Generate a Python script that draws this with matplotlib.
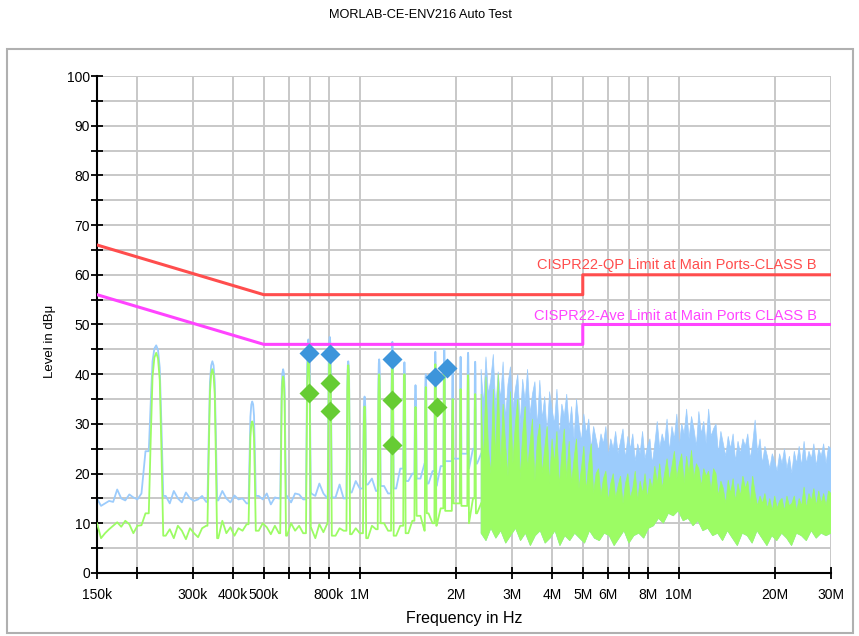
import numpy as np
import matplotlib.pyplot as plt
from matplotlib.patches import Rectangle
from matplotlib.ticker import NullLocator

plt.rcParams['font.family'] = ['Liberation Sans', 'DejaVu Sans']

# x axis ticks
tick_f = [150e3, 200e3, 300e3, 400e3, 500e3, 600e3, 700e3, 800e3, 1e6,
          2e6, 3e6, 4e6, 5e6, 6e6, 7e6, 8e6, 10e6, 20e6, 30e6]
tick_lab = ['150k', '', '300k', '400k', '500k', '', '', '800k', '1M',
            '2M', '3M', '4M', '5M', '6M', '', '8M', '10M', '20M', '30M']

# limit lines (freq, dB)
qp_lim_f = [150e3, 500e3, 5e6, 5e6, 30e6]
qp_lim_v = [66, 56, 56, 60, 60]
av_lim_f = [150e3, 500e3, 5e6, 5e6, 30e6]
av_lim_v = [56, 46, 46, 50, 50]

# final measurement markers
qp_mark_f = [693e3, 806e3, 1.26e6, 1.72e6, 1.88e6]
qp_mark_v = [44.3, 44.1, 43.1, 39.4, 41.2]
av_mark_f = [693e3, 806e3, 806e3, 1.26e6, 1.26e6, 1.75e6]
av_mark_v = [36.2, 38.2, 32.6, 34.8, 25.8, 33.4]

# low band: noise floor sampled on a log grid 150k..2.4M
floor_f = np.geomspace(150e3, 2.4e6, 96)
blue_floor = [15.0, 13.5, 14.0, 14.5, 14.3, 16.8, 15.0, 14.6, 15.8, 15.2,
              14.8, 16.0, 24.5, 25.5, 20.0, 16.0, 16.0, 15.5, 14.0, 16.5,
              15.0, 14.2, 16.2, 15.0, 14.5, 14.8, 15.5, 14.3, 15.0, 15.0,
              14.6, 16.5, 15.0, 14.2, 15.6, 14.8, 15.0, 14.0, 15.0, 15.0,
              15.5, 14.8, 16.0, 13.8, 15.2, 15.0, 15.0, 15.5, 14.2, 16.0,
              15.8, 14.8, 17.5, 16.0, 15.5, 18.0, 16.0, 15.0, 16.0, 15.2,
              17.8, 15.0, 16.5, 16.2, 18.5, 17.0, 15.5, 17.8, 19.0, 16.5,
              18.2, 17.5, 16.0, 19.5, 17.0, 21.0, 16.8, 18.5, 20.0, 17.5,
              19.0, 22.0, 18.0, 20.5, 17.5, 21.5, 19.0, 22.5, 20.0, 23.0,
              19.5, 24.0, 21.0, 25.0, 22.0, 24.0]
green_floor = [10.0, 7.0, 8.0, 8.8, 9.5, 10.2, 9.3, 10.5, 9.8, 8.0,
               9.5, 9.6, 12.0, 12.5, 10.0, 9.0, 9.0, 7.5, 8.8, 7.0,
               9.5, 8.5, 6.8, 9.0, 8.0, 7.2, 9.0, 9.5, 9.0, 9.0,
               7.0, 10.5, 8.0, 9.2, 7.5, 9.0, 8.5, 9.8, 9.0, 9.0,
               8.5, 10.0, 9.2, 7.8, 9.5, 8.0, 9.0, 7.5, 10.0, 8.5,
               9.5, 8.0, 10.5, 9.0, 7.0, 9.8, 8.2, 10.0, 9.0, 7.5,
               9.0, 8.5, 10.2, 7.8, 9.0, 8.0, 10.5, 7.0, 9.5, 8.8,
               6.5, 10.0, 8.5, 11.0, 7.5, 9.5, 12.0, 8.0, 10.5, 9.0,
               11.5, 8.5, 12.0, 10.0, 9.5, 13.0, 10.5, 12.5, 9.0, 14.0,
               11.0, 13.5, 10.0, 15.0, 12.0, 14.0]

# harmonic peaks
peak_f = [230e3, 345e3, 460e3, 575e3, 690e3, 805e3, 920e3, 1035e3, 1150e3,
          1265e3, 1380e3, 1495e3, 1610e3, 1725e3, 1840e3, 1955e3, 2070e3,
          2185e3, 2300e3]
blue_peak = [45.8, 42.6, 34.5, 41.0, 47.0, 47.5, 42.6, 35.5, 43.0, 46.5,
             42.4, 37.8, 40.0, 44.5, 45.0, 41.5, 43.5, 44.3, 42.5]
green_peak = [44.3, 41.0, 30.5, 39.5, 43.0, 43.0, 41.8, 33.5, 40.0, 42.0,
              40.0, 33.4, 37.4, 42.0, 42.0, 35.0, 37.0, 39.8, 36.0]

# high band 2.4M..30M: dense spectrum drawn as envelopes
band_f = np.geomspace(2.4e6, 30e6, 144)
blue_top = [41, 34, 43.5, 36, 39, 44, 33, 40.5, 35, 42.5, 31, 38,
            41.5, 33, 37, 40, 30, 39, 34.5, 41, 32, 36, 38.5, 29.5,
            38.8, 31, 35.5, 28, 36.5, 33, 30, 37, 27.5, 34, 31.5, 36,
            29, 33.5, 27, 35, 30, 26.5, 32, 28, 31, 25, 29.5, 27,
            24.5, 28, 26, 29.5, 23.5, 27, 25, 28.5, 24, 26.5, 29, 23,
            27.5, 25, 28, 22.5, 26, 24, 28.5, 23, 25.5, 27, 22, 26,
            30.5, 25, 28, 26, 31, 24.5, 29.5, 27, 32, 25.5, 30, 28,
            33, 27, 31.5, 29, 25.5, 32.5, 28, 30.5, 26, 33, 27.5, 29,
            30, 24, 28.5, 26, 23.5, 27.5, 25, 28, 22.5, 26.5, 24, 27,
            25.5, 28, 23, 26, 30.8, 24, 27, 22, 25.5, 23.5, 21, 24,
            22.5, 20.5, 24, 22, 25, 21, 23.5, 20, 24.5, 22, 25.5, 21.5,
            26.5, 22, 24.5, 23, 26, 21.5, 25, 23.5, 26, 22, 25.5, 25]
green_top = [36, 22, 39.5, 25, 20, 37, 23, 40, 21, 34, 26, 19.5,
             36.5, 22, 30, 35, 19, 28, 33.5, 21, 26, 31, 18.5, 27,
             30, 20, 25, 29.5, 18, 27, 22, 28.5, 17.5, 24, 29, 19,
             26.5, 18, 23, 27, 17, 21, 25.5, 16.5, 22, 26, 16, 20,
             21, 15.5, 19, 20.5, 14.5, 18, 20, 15, 17.5, 19.5, 14, 18,
             20, 15, 17, 20.5, 14.5, 18.5, 16, 20, 15, 19, 17, 21.5,
             18, 22, 17, 20, 23, 18.5, 21.5, 24.5, 19, 22, 24, 18,
             23.5, 20, 24.7, 19, 22, 21, 17.5, 21, 19.5, 20.5, 16.5, 21,
             20, 15.5, 18.5, 17, 14, 18.7, 16, 19, 14.5, 18, 15.5, 19.5,
             17, 18.5, 14, 19.5, 16, 13.5, 15.5, 14, 16, 13, 15, 12.5,
             15.5, 13, 14.5, 15, 12.5, 15.5, 13.5, 14, 15.5, 12.5, 15, 13.5,
             17.3, 13, 16, 14.5, 17, 13.5, 16.5, 14, 16, 13.5, 16.5, 16]
band_lo_f = np.geomspace(2.4e6, 30e6, 72)
green_bottom = [8, 6.5, 9, 7, 8.5, 6, 7.5, 9, 6.5, 8, 5.5, 7.5,
                8.5, 6, 7, 8.5, 5.5, 7.5, 6.5, 8, 7, 6, 8.5, 7,
                6.5, 8, 7.5, 5.5, 7, 8.5, 6, 7.5, 8, 7, 9, 9.5,
                11, 10, 12, 11.5, 12.5, 10.5, 11, 9.5, 10.5, 8.5, 9, 7.5,
                8, 6.5, 8.5, 7, 5.5, 8, 7.5, 6, 8.5, 7, 5.5, 7.5,
                6.5, 8, 7, 5.5, 8, 7.5, 6.5, 8.5, 7, 8, 7.5, 8]

# peak shape (kHz offsets and fraction of height above floor)
shape_off = [-12, -9, -6, -3, 0, 3, 6, 9, 12]
shape_frac = [0, 0.45, 0.85, 0.97, 1, 0.97, 0.85, 0.45, 0]


def build_trace(fl_f, fl_v, pk_f, pk_v):
    fl_v = np.asarray(fl_v)
    keep = np.ones(len(fl_f), bool)
    for f in pk_f:
        keep &= np.abs(fl_f - f) > 12e3
    kf, kv = fl_f[keep], fl_v[keep]
    xs = list(kf)
    ys = list(kv)
    for f, v in zip(pk_f, pk_v):
        # floor level on each side of the peak
        left = kv[kf < f][-1]
        right = kv[kf > f][0] if np.any(kf > f) else kv[-1]
        for off, fr in zip(shape_off, shape_frac):
            base = left if off < 0 else right
            xs.append(f + off * 1e3)
            ys.append(base + fr * (v - base))
    order = np.argsort(xs)
    return np.array(xs)[order], np.array(ys)[order]


blue_c = '#9cccfc'
green_c = '#9cfc64'

fig = plt.figure(figsize=(8.59, 6.36), dpi=100)
fig.patches.append(Rectangle((0.008, 0.005), 0.985, 0.918, transform=fig.transFigure,
                             fill=False, edgecolor='#b0b0b0', lw=1.5))
fig.text(0.489, 0.977, 'MORLAB-CE-ENV216 Auto Test', ha='center', va='center', fontsize=9.2)

ax = fig.add_axes([0.1129, 0.0991, 0.8545, 0.7814])
ax.set_xscale('log')
ax.set_xlim(150e3, 30e6)
ax.set_ylim(0, 100)

# spectra
bx, by = build_trace(floor_f, blue_floor, peak_f, blue_peak)
gx, gy = build_trace(floor_f, green_floor, peak_f, green_peak)
ax.plot(bx, by, color=blue_c, lw=1.3, zorder=2)
ax.fill(np.concatenate([band_f, band_lo_f[::-1]]),
        np.concatenate([blue_top, green_bottom[::-1]]),
        color=blue_c, lw=0.5, zorder=2)
ax.plot(gx, gy, color=green_c, lw=1.3, zorder=3)
ax.fill(np.concatenate([band_f, band_lo_f[::-1]]),
        np.concatenate([green_top, green_bottom[::-1]]),
        color=green_c, lw=0.5, zorder=3)

# limits
ax.plot(qp_lim_f, qp_lim_v, color='#ff4d4d', lw=2.2, zorder=4)
ax.plot(av_lim_f, av_lim_v, color='#ff44ff', lw=2.2, zorder=4)
ax.text(27e6, 62, 'CISPR22-QP Limit at Main Ports-CLASS B', color='#ff4d4d',
        ha='right', va='center', fontsize=10.5, zorder=5)
ax.text(27e6, 51.8, 'CISPR22-Ave Limit at Main Ports CLASS B', color='#ff44ff',
        ha='right', va='center', fontsize=10.5, zorder=5)

# markers
ax.plot(qp_mark_f, qp_mark_v, 'D', color='#3d95db', ms=10, mec='none', zorder=6)
ax.plot(av_mark_f, av_mark_v, 'D', color='#66cc33', ms=10, mec='none', zorder=6)

# axes styling
ax.set_xticks(tick_f)
ax.set_xticklabels(tick_lab)
ax.xaxis.set_minor_locator(NullLocator())
ax.set_yticks(np.arange(0, 101, 10))
ax.set_yticks(np.arange(5, 100, 10), minor=True)
ax.tick_params(which='both', direction='inout', length=8, width=1.3, color='black')
ax.tick_params(axis='x', labelsize=10, pad=7)
ax.tick_params(axis='y', labelsize=10, pad=1)
ax.grid(True, which='both', color='#c8c8c8', lw=1.4)
ax.set_axisbelow(True)
for s in ['top', 'right']:
    ax.spines[s].set_visible(False)
for s in ['left', 'bottom']:
    ax.spines[s].set_linewidth(1.5)
ax.set_xlabel('Frequency in Hz', fontsize=11.5, labelpad=6)
ax.set_ylabel('Level in dBμ', fontsize=9.5)
ax.yaxis.set_label_coords(-0.056, 0.467)

fig.savefig('out.png', dpi=100)
